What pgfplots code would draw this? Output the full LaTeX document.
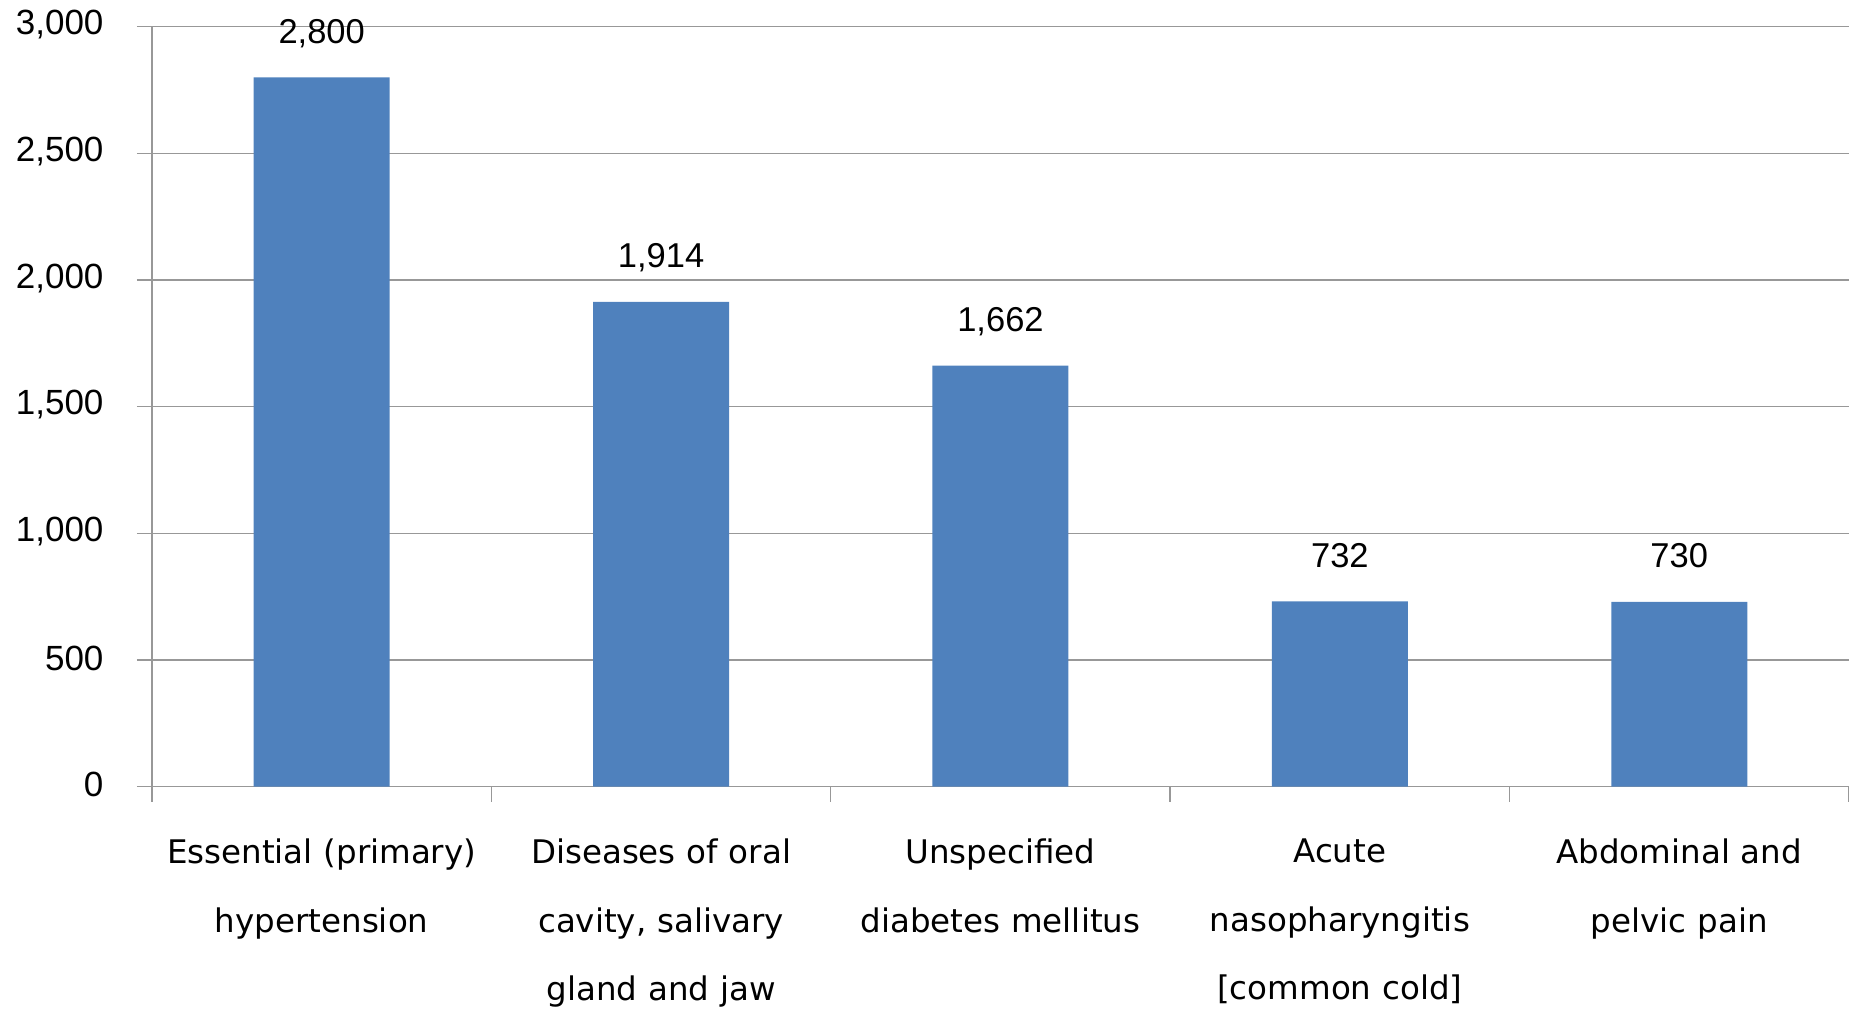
\documentclass[border=0pt]{standalone}
\usepackage{pgfplots}
\pgfplotsset{compat=1.18}
\usepackage{fontspec}
\setmainfont{Liberation Sans}
\newfontfamily\catfont{DejaVu Sans}
\definecolor{barblue}{HTML}{4F81BD}
\definecolor{gridgray}{HTML}{989898}
\begin{document}
\begin{tikzpicture}
\begin{axis}[
  at={(0,0)}, anchor=south west,
  scale only axis, width=1697pt, height=760pt,
  xmin=-0.5, xmax=4.5, ymin=0, ymax=3000,
  axis lines=left, axis line style={-, draw=gridgray, line width=1.4pt},
  /pgf/number format/assume math mode=true,
  /pgf/number format/1000 sep={,},
  ytick={0,500,...,3000},
  ymajorgrids, grid style={draw=gridgray, line width=1.4pt},
  tick align=outside, major tick length=15pt,
  tick style={draw=gridgray, line width=1.4pt},
  xtick={-0.5,0.5,1.5,2.5,3.5,4.5},
  x tick label as interval,
  xticklabels={{Essential (primary)\\hypertension},
    {Diseases of oral\\cavity, salivary\\gland and jaw},
    {Unspecified\\diabetes mellitus},
    {Acute\\nasopharyngitis\\{[common cold]}},
    {Abdominal and\\pelvic pain}},
  xticklabel style={font=\catfont\fontsize{32.5}{68.5}\selectfont, align=center, text width=336pt, anchor=north, yshift=-34pt},
  yticklabel style={font=\fontsize{35}{40}\selectfont, xshift=-30pt, yshift=2pt},
]
\addplot[ybar, bar shift=0pt, bar width=136pt, fill=barblue, draw=none,
  point meta=y, nodes near coords,
  every node near coord/.append style={font=\fontsize{34.5}{40}\selectfont, anchor=south, inner sep=0pt, text depth=0pt, yshift=34pt}]
  coordinates {(0,2800) (1,1914) (2,1662) (3,732) (4,730)};
\end{axis}
\pgfresetboundingbox
\useasboundingbox (-152pt,-223.3pt) rectangle (1697pt,786.7pt);
\end{tikzpicture}
\end{document}
